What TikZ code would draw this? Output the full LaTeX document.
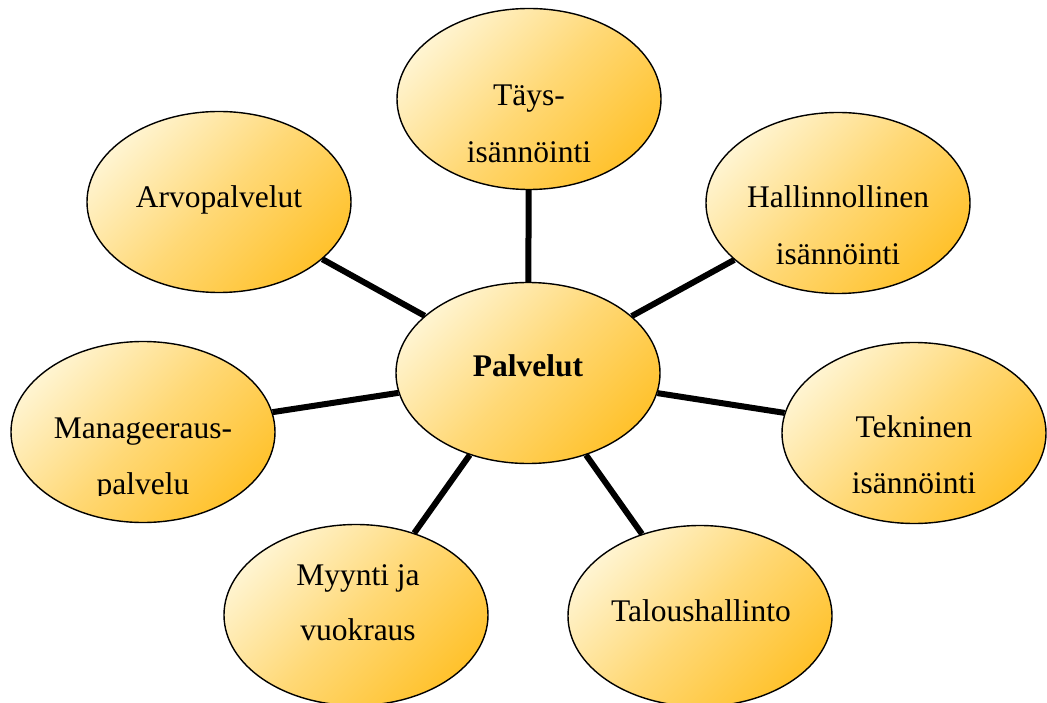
\documentclass[tikz,border=0pt]{standalone}
\usepackage{fontspec}
\setmainfont{Liberation Serif}
\usetikzlibrary{shapes.geometric,backgrounds}
\definecolor{lightfill}{RGB}{255,244,208}
\definecolor{darkfill}{RGB}{255,194,45}
\tikzset{
  bubble/.style={ellipse, draw=black, line width=1.4pt, minimum width=264pt, minimum height=181pt, inner sep=0pt,
    top color=lightfill, bottom color=darkfill, middle color=lightfill!45!darkfill, shading angle=45},
  lbl/.style={anchor=base, inner sep=0pt, font=\fontsize{31.5}{38}\selectfont},
  spoke/.style={line width=6pt}
}
\begin{document}
\begin{tikzpicture}[x=1pt,y=-1pt]
\useasboundingbox (0,0) rectangle (1047,703);
\node[bubble] (c) at (528,373) {};
\node[bubble] (tay) at (529,99) {};
\node[bubble] (arv) at (219,202) {};
\node[bubble] (hal) at (838,203) {};
\node[bubble] (man) at (143,432) {};
\node[bubble] (tek) at (914,433) {};
\node[bubble] (myy) at (356,615) {};
\node[bubble] (tal) at (700,616) {};
\begin{scope}[on background layer]
\draw[spoke] (c) -- (tay);
\draw[spoke] (c) -- (arv);
\draw[spoke] (c) -- (hal);
\draw[spoke] (c) -- (man);
\draw[spoke] (c) -- (tek);
\draw[spoke] (c) -- (myy);
\draw[spoke] (c) -- (tal);
\end{scope}
\node[lbl, font=\fontsize{31.5}{38}\selectfont\bfseries] (tc) at (528,377) {Palvelut};
\node[lbl] (t1a) at (529,106) {Täys-};
\node[lbl] (t1b) at (529,163) {isännöinti};
\node[lbl] (t2) at (219,208) {Arvopalvelut};
\node[lbl] (t3a) at (838,208) {Hallinnollinen};
\node[lbl] (t3b) at (838,265) {isännöinti};
\node[lbl] (t4a) at (143,438) {Manageeraus-};
\begin{scope}
\clip (0,0) rectangle (1047,495);
\node[lbl] (t4b) at (143,494) {palvelu};
\end{scope}
\node[lbl] (t5a) at (914,437) {Tekninen};
\node[lbl] (t5b) at (914,493) {isännöinti};
\node[lbl] (t6a) at (358,585) {Myynti ja};
\node[lbl] (t6b) at (358,640) {vuokraus};
\node[lbl] (t7) at (701,621) {Taloushallinto};
\end{tikzpicture}
\end{document}
